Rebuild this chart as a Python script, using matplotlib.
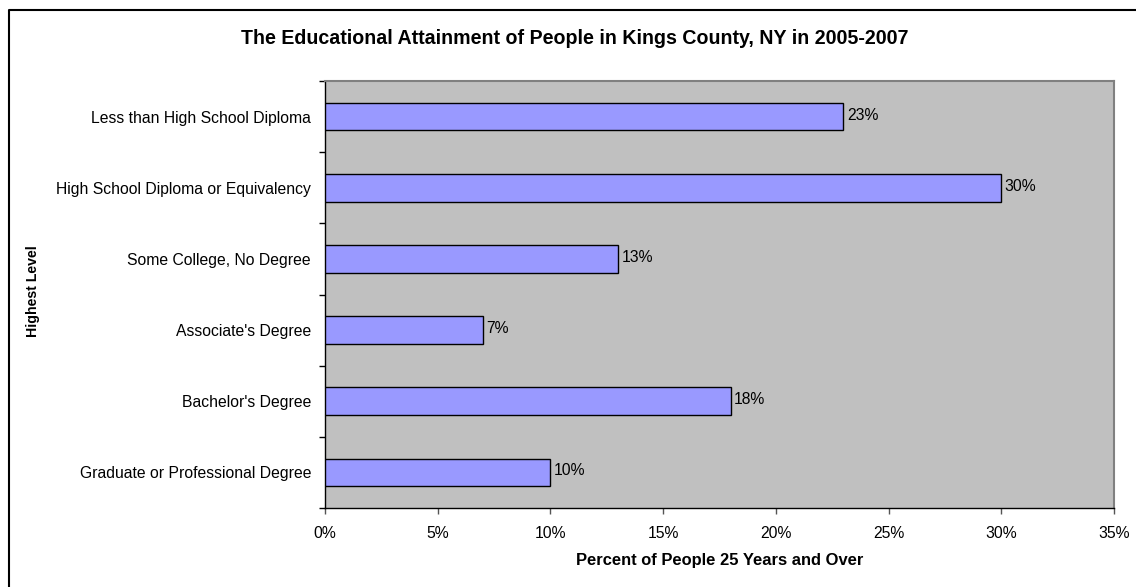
import matplotlib
matplotlib.use("Agg")
import matplotlib.pyplot as plt
from matplotlib.lines import Line2D

categories = ["Less than High School Diploma", "High School Diploma or Equivalency",
              "Some College, No Degree", "Associate's Degree", "Bachelor's Degree",
              "Graduate or Professional Degree"]
values = [23, 30, 13, 7, 18, 10]
xticks = [0, 5, 10, 15, 20, 25, 30, 35]
xtick_labels = ["0%", "5%", "10%", "15%", "20%", "25%", "30%", "35%"]

plt.rcParams['font.family'] = ['Liberation Sans', 'DejaVu Sans']

W, H = 1136, 587
fig = plt.figure(figsize=(W / 100, H / 100), dpi=100)
left, right, top, bottom = 325, 1114, 81, 508
ax = fig.add_axes([left / W, 1 - bottom / H, (right - left) / W, (bottom - top) / H])

# outer chart border (cropped at right/bottom)
bx, by = 8.5 / W, 1 - 9.5 / H
fig.lines.append(Line2D([bx, bx, 1.01], [-0.01, by, by], transform=fig.transFigure,
                        color='black', linewidth=1.5))

n = len(categories)
ypos = list(range(n))[::-1]
ax.set_facecolor('#C0C0C0')
ax.barh(ypos, values, height=0.39, color='#9999FF', edgecolor='black', linewidth=1, zorder=3)
for y, v in zip(ypos, values):
    ax.text(v + 0.15, y + 0.02, f"{v}%", va='center', ha='left', fontsize=11.3, color='black')

ax.set_xlim(0, 35)
ax.set_ylim(-0.5, n - 0.5)
ax.set_xticks(xticks)
ax.set_xticklabels(xtick_labels, fontsize=11.3)
ax.set_yticks(ypos)
ax.set_yticklabels(categories, fontsize=11.3)
ax.tick_params(axis='y', length=0, pad=10)
ax.set_yticks([i - 0.5 for i in range(n + 1)], minor=True)
ax.tick_params(axis='y', which='minor', length=4, width=1, direction='out')
ax.tick_params(axis='x', length=4, width=1, direction='out', pad=9, color='#555555')

for s in ['left', 'bottom']:
    ax.spines[s].set_color('black')
    ax.spines[s].set_linewidth(1)
for s in ['top', 'right']:
    ax.spines[s].set_color('#808080')
    ax.spines[s].set_linewidth(1.5)

fig.text(575 / W, 1 - 39 / H, "The Educational Attainment of People in Kings County, NY in 2005-2007",
         ha='center', va='center', fontsize=14.1, fontweight='bold')
fig.text(720 / W, 1 - 560 / H, "Percent of People 25 Years and Over",
         ha='center', va='center', fontsize=11.9, fontweight='bold')
fig.text(33 / W, 1 - 291 / H, "Highest Level", ha='center', va='center',
         rotation=90, fontsize=10.2, fontweight='bold')

fig.savefig("out.png", dpi=100)
